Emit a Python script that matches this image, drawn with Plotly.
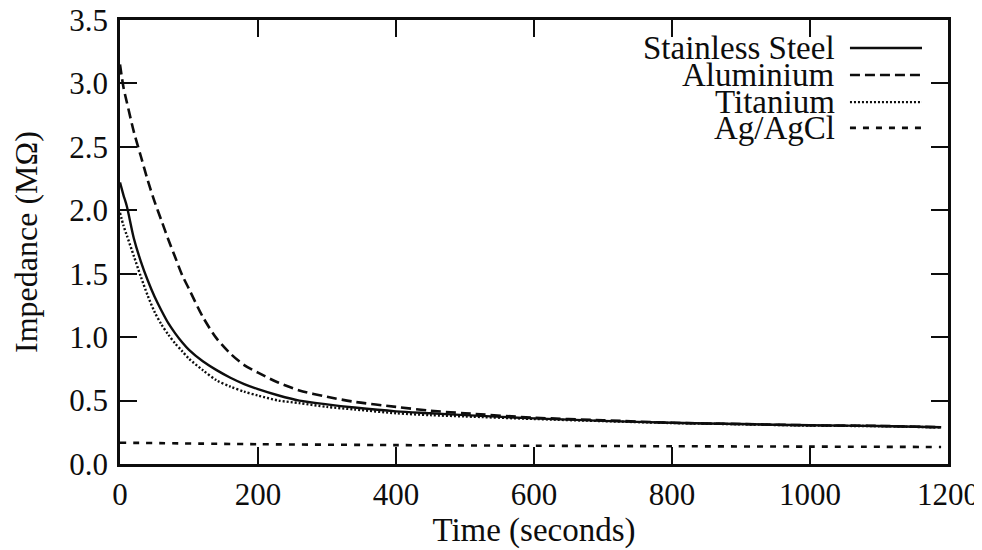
import plotly.graph_objects as go

# ---- data ----
time_s = [0, 5, 10, 20, 30, 40, 50, 60, 70, 80, 90, 100, 120, 140, 160, 180, 200,
          230, 260, 300, 340, 400, 450, 500, 600, 700, 800, 900, 1000, 1100, 1190]

stainless_steel = [2.22, 2.12, 2.03, 1.78, 1.60, 1.45, 1.32, 1.21, 1.11, 1.03, 0.96, 0.90,
                   0.81, 0.74, 0.68, 0.63, 0.59, 0.54, 0.50, 0.47, 0.445, 0.415, 0.40,
                   0.385, 0.36, 0.34, 0.325, 0.315, 0.305, 0.30, 0.29]

aluminium = [3.15, 2.97, 2.85, 2.62, 2.43, 2.24, 2.07, 1.92, 1.77, 1.63, 1.49, 1.38,
             1.16, 0.99, 0.87, 0.78, 0.72, 0.64, 0.58, 0.53, 0.49, 0.45, 0.42,
             0.40, 0.365, 0.345, 0.325, 0.315, 0.305, 0.30, 0.29]

titanium = [1.98, 1.88, 1.80, 1.64, 1.48, 1.33, 1.20, 1.10, 1.02, 0.95, 0.89, 0.83,
            0.74, 0.66, 0.61, 0.57, 0.54, 0.50, 0.48, 0.45, 0.43, 0.40, 0.385,
            0.375, 0.355, 0.338, 0.323, 0.313, 0.303, 0.298, 0.288]

agcl_time = [0, 200, 400, 600, 800, 1000, 1190]
ag_agcl = [0.168, 0.156, 0.149, 0.144, 0.140, 0.137, 0.134]

series_names = ["Stainless Steel", "Aluminium", "Titanium", "Ag/AgCl"]
x_ticks = [0, 200, 400, 600, 800, 1000, 1200]
y_ticks = [0.0, 0.5, 1.0, 1.5, 2.0, 2.5, 3.0, 3.5]

# ---- styling ----
INK = "#0d0d0d"
FONT = "Liberation Serif"
dashes = ["solid", "10px,5px", "2px,2px", "6px,7px"]
widths = [2.4, 2.6, 2.4, 2.6]

fig = go.Figure()
data_x = [time_s, time_s, time_s, agcl_time]
data_y = [stainless_steel, aluminium, titanium, ag_agcl]
for name, xs, ys, d, w in zip(series_names, data_x, data_y, dashes, widths):
    fig.add_trace(go.Scatter(
        x=xs, y=ys, mode="lines", name=name,
        line=dict(color=INK, width=w, dash=d, shape="spline", smoothing=0.8),
        showlegend=False,
    ))

# manual legend: text at left, line sample at right (gnuplot style)
leg_rows = [0.937, 0.876, 0.815, 0.757]
for name, d, w, yy in zip(series_names, dashes, widths, leg_rows):
    fig.add_annotation(xref="paper", yref="paper", x=0.866, y=yy,
                       text=name, showarrow=False, xanchor="right", yanchor="middle",
                       font=dict(family=FONT, size=33, color=INK))
    fig.add_shape(type="line", xref="paper", yref="paper",
                  x0=0.8816, x1=0.9686, y0=yy, y1=yy,
                  line=dict(color=INK, width=w, dash=d))

axis_common = dict(
    showline=True, linecolor=INK, linewidth=2.5, mirror="ticks",
    ticks="inside", ticklen=17, tickwidth=2.2, tickcolor=INK,
    showgrid=False, zeroline=False, automargin=False,
    ticklabeloverflow="allow",
    tickfont=dict(family=FONT, size=31, color=INK),
)

# page has an 8px body margin, so the figure is offset by 8px inside the window
fig.update_layout(
    width=974, height=542,
    margin=dict(l=112, r=34, t=12, b=86),
    paper_bgcolor="white", plot_bgcolor="white",
    xaxis=dict(range=[0, 1200], tickvals=x_ticks,
               title=dict(text="Time (seconds)", font=dict(family=FONT, size=33, color=INK),
                          standoff=0),
               ticklabelstandoff=1,
               **axis_common),
    yaxis=dict(range=[0, 3.5], tickvals=y_ticks, tickformat=".1f",
               title=dict(text="Impedance (MΩ)", font=dict(family=FONT, size=32, color=INK),
                          standoff=31),
               ticklabelstandoff=3,
               **axis_common),
)

fig.write_html("out.html")
